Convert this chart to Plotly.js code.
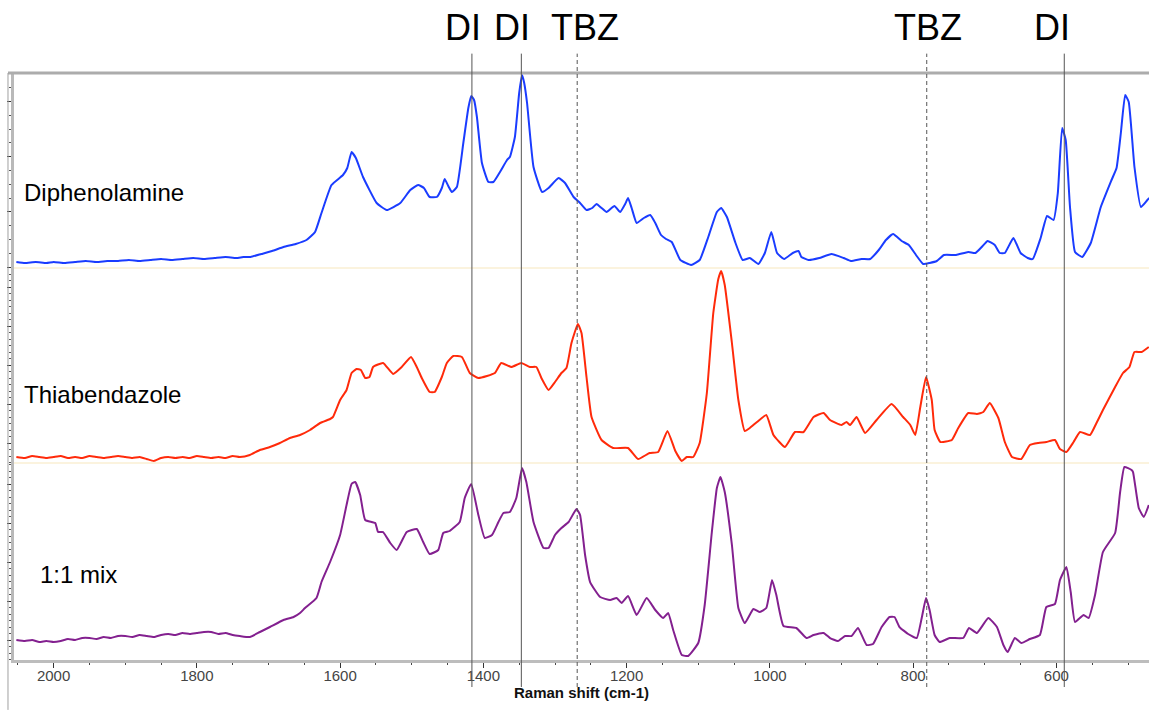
<!DOCTYPE html>
<html>
<head>
<meta charset="utf-8">
<script src="https://cdn.plot.ly/plotly-3.0.1.min.js"></script>
<style>
  html, body { margin: 0; padding: 0; background: #ffffff; }
  #chart { width: 1149px; height: 710px; }
</style>
</head>
<body>
<div id="chart"></div>
<script>
// Raman spectra (Raman shift in cm-1, intensity in arbitrary units, each panel scaled 0-195)
const diphenolamineShift = [2052,2040,2025,2010,2000,1985,1970,1955,1940,1925,1910,1895,1880,1865,1850,1835,1820,1805,1790,1775,1760,1745,1735,1725,1710,1695,1679,1662,1647,1635,1626,1612,1596,1590,1584,1578,1568,1549,1535,1516,1502,1491,1483,1475,1465,1458,1454,1449,1444,1437,1428,1421,1417,1413,1409,1402,1393,1386,1376,1367,1363,1356,1350,1346,1343,1339,1330,1318,1309,1295,1286,1274,1265,1256,1248,1242,1235,1228,1217,1209,1202,1198,1193,1186,1176,1167,1160,1152,1145,1137,1125,1110,1098,1086,1074,1068,1060,1048,1038,1028,1016,1007,998,990,980,968,960,956,946,931,914,897,887,872,860,848,838,828,816,806,796,786,777,767,757,740,723,713,703,696,686,679,672,660,650,640,633,622,613,604,598,592,587,581,574,564,552,538,523,516,510,504,499,491,482,473,470];
const diphenolamineIntensity = [6,5,6,5,6,5,6,7,6,7,7,8,7,8,9,8,9,10,9,10,11,10,11,11,14,17,21,24,28,36,55,83,93,100,116,110,91,65,58,65,78,83,80,71,71,80,89,82,76,81,125,160,172,168,151,105,86,86,97,108,111,131,175,193,185,165,101,76,80,90,85,71,65,58,60,64,60,56,62,56,64,70,60,45,50,53,45,33,29,26,8,3,8,31,56,60,51,25,8,10,4,15,36,15,9,15,17,11,8,10,14,10,7,9,9,18,28,34,27,23,13,4,5,7,13,13,16,15,22,27,23,15,15,30,15,10,9,30,52,48,75,140,128,61,16,11,25,61,88,100,135,173,166,101,61,68,70];

const thiabendazoleShift = [2052,2040,2030,2020,2010,2000,1990,1980,1970,1960,1950,1940,1930,1920,1910,1900,1890,1880,1870,1860,1850,1840,1830,1820,1810,1800,1790,1780,1770,1760,1750,1740,1726,1712,1698,1684,1670,1656,1642,1628,1614,1610,1600,1591,1584,1577,1571,1565,1559,1554,1540,1526,1514,1501,1493,1486,1475,1468,1458,1451,1442,1430,1419,1407,1395,1384,1375,1361,1347,1335,1326,1319,1309,1300,1291,1284,1277,1268,1263,1256,1249,1235,1219,1198,1184,1168,1156,1143,1132,1123,1116,1107,1098,1088,1079,1072,1068,1063,1053,1044,1035,1028,1018,1005,995,979,965,953,939,925,916,900,893,888,879,867,851,830,814,804,797,790,782,774,770,762,746,737,723,711,702,693,681,672,662,649,637,625,614,602,595,586,576,567,553,544,535,518,507,498,491,481,471];
const thiabendazoleIntensity = [6,5,7,6,5,6,7,5,6,5,7,6,5,6,7,6,5,6,4,2,5,6,5,6,5,7,6,5,6,5,7,6,8,13,16,20,25,28,33,40,44,46,63,73,90,94,93,85,86,96,100,89,96,106,96,85,71,71,86,100,107,106,90,85,87,90,100,96,100,96,96,85,73,81,90,95,120,139,130,86,46,23,15,15,4,10,11,32,12,2,6,6,20,70,150,184,192,178,120,63,32,35,41,48,28,16,31,31,46,50,43,38,41,38,46,30,43,59,46,38,28,56,86,63,33,21,23,35,50,49,51,60,45,21,6,4,18,20,21,23,14,11,21,31,28,40,53,76,90,96,111,111,116];

const mixShift = [2052,2040,2030,2020,2010,2000,1990,1980,1970,1960,1950,1940,1930,1920,1910,1900,1890,1880,1870,1860,1850,1840,1830,1820,1810,1800,1790,1780,1770,1760,1750,1740,1726,1712,1698,1679,1665,1656,1649,1633,1626,1614,1600,1591,1584,1579,1572,1565,1551,1547,1540,1530,1521,1507,1493,1484,1475,1463,1456,1447,1433,1426,1417,1407,1398,1388,1379,1372,1363,1354,1346,1340,1330,1316,1309,1300,1291,1281,1270,1265,1258,1251,1237,1223,1214,1207,1198,1186,1172,1160,1149,1142,1135,1123,1114,1100,1091,1081,1074,1069,1063,1053,1044,1035,1023,1014,1005,997,991,981,963,949,939,925,916,905,895,886,877,865,856,844,833,826,819,807,795,788,782,777,770,763,749,730,722,711,695,683,674,668,658,649,637,623,614,602,595,586,580,574,562,555,546,535,518,511,505,495,493,485,478,471];
const mixIntensity = [20,19,20,18,19,18,19,21,20,22,22,21,23,22,24,24,23,25,24,23,25,26,25,27,26,27,28,28,26,27,25,24,23,28,33,40,43,47,52,62,78,98,125,155,176,178,165,140,137,128,128,117,110,128,131,118,106,110,127,129,138,162,176,145,122,125,138,147,148,162,192,178,138,112,112,125,132,138,151,145,105,78,63,60,62,57,64,45,62,50,42,47,30,5,4,17,55,128,172,183,168,115,52,37,51,48,52,80,65,34,32,22,25,27,22,19,24,24,32,15,16,33,43,43,33,26,22,42,62,50,25,18,22,22,32,27,42,33,15,8,22,17,21,25,53,56,80,93,68,38,45,42,65,108,127,168,193,190,188,152,143,155];

const sampleNames = ['Diphenolamine', 'Thiabendazole', '1:1 mix'];
const sampleColors = ['#1a3cff', '#ff2a0a', '#83208f'];

// Assigned bands marked across all three spectra
const bandShift = [1416, 1347, 1269, 781, 589];
const bandLabel = ['DI', 'DI', 'TBZ', 'TBZ', 'DI'];
const bandLabelShiftPx = [-9, -9, 8, 1, -12];

const FONT = 'Liberation Sans, Arial, Helvetica, sans-serif';
const series = [
  [diphenolamineShift, diphenolamineIntensity, 'y'],
  [thiabendazoleShift, thiabendazoleIntensity, 'y2'],
  [mixShift, mixIntensity, 'y3']
];

const traces = series.map((s, i) => ({
  type: 'scatter',
  mode: 'lines',
  x: s[0],
  y: s[1],
  xaxis: 'x',
  yaxis: s[2],
  name: sampleNames[i],
  line: { color: sampleColors[i], width: 2, shape: 'spline', smoothing: 0.4 },
  hoverinfo: 'x+name'
}));

function panelAxis(domain, range, tick0, dtick, minorDtick) {
  return {
    domain: domain,
    range: range,
    anchor: 'x',
    showline: true,
    linecolor: '#b9b9b9',
    linewidth: 3,
    ticks: 'outside',
    ticklen: 4,
    tickwidth: 1,
    tickcolor: '#333333',
    tick0: tick0,
    dtick: dtick,
    minor: { ticks: 'outside', ticklen: 2, tickcolor: '#555555', dtick: minorDtick, tick0: tick0 },
    showticklabels: false,
    showgrid: false,
    zeroline: false,
    fixedrange: true
  };
}

const panelTop = [0.6678, 1];
const panelMid = [0.3356, 0.6678];
const panelBot = [0, 0.3356];

const shapes = [];
// outer frame and top border
shapes.push({ type: 'line', xref: 'paper', yref: 'paper', x0: -0.0053, x1: 1, y0: 1, y1: 1,
  line: { color: '#acacac', width: 3 } });
shapes.push({ type: 'line', xref: 'paper', yref: 'paper', x0: -0.0053, x1: -0.0053, y0: 1, y1: -0.085,
  line: { color: '#a0a0a0', width: 1 } });
// faint panel baselines
[panelMid[1], panelBot[1]].forEach(y => shapes.push({
  type: 'line', xref: 'paper', yref: 'paper', x0: 0, x1: 1, y0: y, y1: y,
  line: { color: '#fbf3de', width: 2 }
}));
// band marker lines
bandShift.forEach((b, i) => shapes.push({
  type: 'line', xref: 'x', yref: 'paper', x0: b, x1: b, y0: -0.046, y1: 1.033,
  line: { color: '#555555', width: 1, dash: bandLabel[i] === 'TBZ' ? '4px,3px' : 'solid' }
}));

const annotations = [];
bandShift.forEach((b, i) => annotations.push({
  x: b, xref: 'x', y: 1.078, yref: 'paper', xshift: bandLabelShiftPx[i],
  text: bandLabel[i], showarrow: false, xanchor: 'center', yanchor: 'middle',
  font: { family: FONT, size: 36, color: '#000000' }
}));
const nameY = [0.7956, 0.452, 0.145];
const nameX = [0.007, 0.007, 0.021];
sampleNames.forEach((n, i) => annotations.push({
  x: nameX[i], xref: 'paper', y: nameY[i], yref: 'paper',
  text: n, showarrow: false, xanchor: 'left', yanchor: 'middle',
  font: { family: FONT, size: 24, color: '#000000' }
}));

const layout = {
  width: 1149,
  height: 710,
  margin: { l: 14, r: 0, t: 73, b: 50, pad: 0 },
  paper_bgcolor: '#ffffff',
  plot_bgcolor: '#ffffff',
  showlegend: false,
  font: { family: FONT, color: '#444444' },
  xaxis: {
    anchor: 'y3',
    range: [2055.3, 470.7],
    showline: true,
    linecolor: '#bdbdbd',
    linewidth: 3,
    ticks: 'outside',
    ticklen: 5,
    tickwidth: 1,
    tickcolor: '#333333',
    tick0: 0,
    dtick: 200,
    ticklabelstandoff: -5,
    minor: { ticks: 'outside', ticklen: 2, tickcolor: '#444444', dtick: 50 },
    tickfont: { family: FONT, size: 15, color: '#444444' },
    showgrid: false,
    zeroline: false,
    fixedrange: true,
    title: { text: '<b>Raman shift (cm-1)</b>', font: { family: FONT, size: 15, color: '#111111' }, standoff: 3 }
  },
  yaxis: panelAxis(panelTop, [0, 195], 1, 55.3, 13.8),
  yaxis2: panelAxis(panelMid, [0, 195], 20, 39, 6.5),
  yaxis3: panelAxis(panelBot, [0, 197], 20, 39, 6.5),
  shapes: shapes,
  annotations: annotations
};

Plotly.newPlot('chart', traces, layout, { displayModeBar: false, staticPlot: true });
</script>
</body>
</html>
